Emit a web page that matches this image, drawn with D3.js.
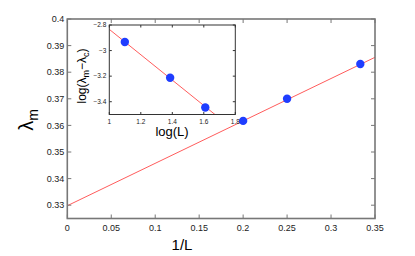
<!DOCTYPE html>
<html>
<head>
<meta charset="utf-8">
<script src="https://cdn.jsdelivr.net/npm/d3@7"></script>
<style>
  body { margin: 0; background: #fff; }
  svg { font-family: "Liberation Sans", Arial, sans-serif; }
</style>
</head>
<body>
<div id="chart"></div>
<script>
// main panel: lambda_m against 1/L
const invL = [0.2, 0.25, 0.3333];
const lambdaM = [0.3617, 0.3700, 0.3831];
const fitLine = [[0, 0.3298], [0.35, 0.3856]];
const mainXTicks = [0, 0.05, 0.1, 0.15, 0.2, 0.25, 0.3, 0.35];
const mainYTicks = [0.33, 0.34, 0.35, 0.36, 0.37, 0.38, 0.39, 0.4];

// inset: log(lambda_m - lambda_c) against log(L)
const logL = [1.0986, 1.3863, 1.6094];
const logDiff = [-2.933, -3.212, -3.445];
const insetFit = [[1, -2.834], [1.8, -3.628]];
const insetXTicks = [1, 1.2, 1.4, 1.6, 1.8];
const insetYTicks = [-2.8, -3, -3.2, -3.4];

const width = 415, height = 256;
const svg = d3.select("#chart").append("svg")
  .attr("width", width).attr("height", height);

const x = d3.scaleLinear().domain([0, 0.35]).range([67.3, 375]);
const y = d3.scaleLinear().domain([0.325, 0.4]).range([218.5, 19]);

const fmt = d => String(d).replace(/^(-?)0\./, "$10.");

// frame with inward ticks on all four sides
function frame(g, sx, sy, opt) {
  const [x0, x1] = sx.range(), [y1, y0] = sy.range();
  const t = opt.tick;
  g.selectAll(".tx").data(opt.xt).join("g").each(function (d) {
    const s = d3.select(this);
    s.append("line").attr("x1", sx(d)).attr("x2", sx(d)).attr("y1", y1).attr("y2", y1 - t)
      .attr("stroke", opt.color).attr("stroke-width", 1);
    s.append("line").attr("x1", sx(d)).attr("x2", sx(d)).attr("y1", y0).attr("y2", y0 + t)
      .attr("stroke", opt.color).attr("stroke-width", 1);
    s.append("text").attr("x", sx(d)).attr("y", y1 + opt.fs + 3)
      .attr("text-anchor", "middle").attr("font-size", opt.fs).attr("fill", "#222")
      .text(opt.fmt(d));
  });
  g.selectAll(".ty").data(opt.yt).join("g").each(function (d) {
    const s = d3.select(this);
    s.append("line").attr("x1", x0).attr("x2", x0 + t).attr("y1", sy(d)).attr("y2", sy(d))
      .attr("stroke", opt.color).attr("stroke-width", 1);
    s.append("line").attr("x1", x1).attr("x2", x1 - t).attr("y1", sy(d)).attr("y2", sy(d))
      .attr("stroke", opt.color).attr("stroke-width", 1);
    s.append("text").attr("x", x0 - 3).attr("y", sy(d)).attr("dy", "0.35em")
      .attr("text-anchor", "end").attr("font-size", opt.fs).attr("fill", "#222")
      .text(opt.fmt(d));
  });
  g.append("rect").attr("x", x0).attr("y", y0).attr("width", x1 - x0).attr("height", y1 - y0)
    .attr("fill", "none").attr("stroke", opt.color).attr("stroke-width", opt.sw);
}

const main = svg.append("g");
const line = (sx, sy) => d3.line().x(d => sx(d[0])).y(d => sy(d[1]));

main.append("path").datum(fitLine).attr("d", line(x, y))
  .attr("stroke", "#ff5c5c").attr("stroke-width", 1).attr("fill", "none");
main.selectAll("circle").data(invL).join("circle")
  .attr("cx", d => x(d)).attr("cy", (d, i) => y(lambdaM[i])).attr("r", 4.2)
  .attr("fill", "#1f3dff");
frame(main, x, y, { xt: mainXTicks, yt: mainYTicks, tick: 4, color: "#777", sw: 1.6, fs: 9, fmt: fmt });

// axis labels
svg.append("text").attr("x", 182).attr("y", 250).attr("text-anchor", "middle")
  .attr("font-size", 15).text("1/L");
svg.append("text").attr("transform", "translate(33,120) rotate(-90)")
  .attr("text-anchor", "middle").attr("font-size", 20)
  .html('λ<tspan font-size="14" dy="5">m</tspan>');

// inset
const ix = d3.scaleLinear().domain([1, 1.8]).range([109.3, 235.3]);
const iy = d3.scaleLinear().domain([-3.5, -2.8]).range([114.5, 25]);
const inset = svg.append("g");
inset.append("rect").attr("x", 109.3).attr("y", 25).attr("width", 126).attr("height", 89.5)
  .attr("fill", "#fff");
inset.append("clipPath").attr("id", "ic").append("rect")
  .attr("x", 109.3).attr("y", 25).attr("width", 126).attr("height", 89.5);
inset.append("path").datum(insetFit).attr("d", line(ix, iy)).attr("clip-path", "url(#ic)")
  .attr("stroke", "#ff5c5c").attr("stroke-width", 1).attr("fill", "none");
inset.selectAll("circle").data(logL).join("circle")
  .attr("cx", d => ix(d)).attr("cy", (d, i) => iy(logDiff[i])).attr("r", 4.2)
  .attr("fill", "#1f3dff");
frame(inset, ix, iy, { xt: insetXTicks, yt: insetYTicks, tick: 2.5, color: "#333", sw: 1, fs: 6.5,
  fmt: d => String(d).replace("-", "\u2212") });

svg.append("text").attr("x", 172).attr("y", 136).attr("text-anchor", "middle")
  .attr("font-size", 13).text("log(L)");
svg.append("text").attr("transform", "translate(86,76) rotate(-90)")
  .attr("text-anchor", "middle").attr("font-size", 12)
  .html('log(λ<tspan font-size="9" dy="3">m</tspan><tspan dy="-3">−λ</tspan><tspan font-size="9" dy="3">c</tspan><tspan dy="-3">)</tspan>');
</script>
</body>
</html>
